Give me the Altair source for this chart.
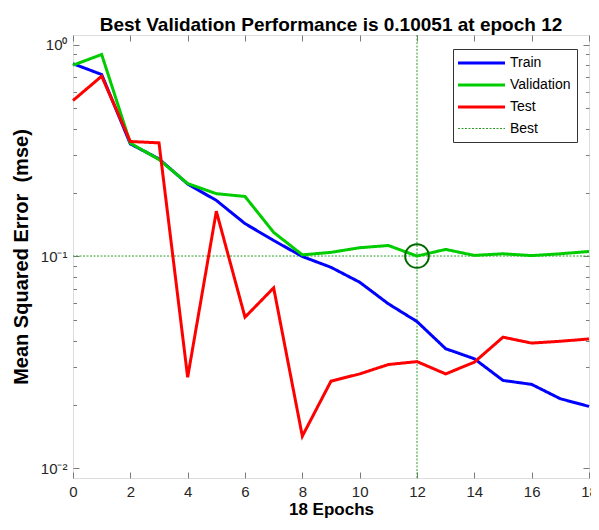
import altair as alt
import pandas as pd

# ---- data ----
epochs = list(range(19))
train = [0.813, 0.723, 0.340, 0.289, 0.220, 0.184, 0.143, 0.119, 0.100, 0.0889,
         0.0756, 0.0598, 0.0493, 0.0367, 0.0329, 0.0260, 0.0249, 0.0213, 0.0196]
validation = [0.800, 0.899, 0.343, 0.287, 0.221, 0.198, 0.192, 0.130, 0.1018, 0.1046,
              0.110, 0.1127, 0.10051, 0.108, 0.1012, 0.103, 0.101, 0.103, 0.1056]
test = [0.545, 0.710, 0.349, 0.344, 0.0269, 0.1636, 0.0517, 0.0711, 0.01418, 0.0258,
        0.0279, 0.0309, 0.0319, 0.0279, 0.0317, 0.0416, 0.0390, 0.0398, 0.0408]
best_epoch = 12
best_perf = 0.10051
n_epochs = 18

series_names = ["Train", "Validation", "Test", "Best"]
series_colors = ["#0000ff", "#00cc00", "#ff0000", "#2a9d2a"]
series_dash = [[1, 0], [1, 0], [1, 0], [2, 1.5]]
series_width = [3, 3, 3, 1]
x_ticks = list(range(0, 19, 2))
y_major = [0.01, 0.1, 1]
y_minor = [0.02, 0.03, 0.04, 0.05, 0.06, 0.07, 0.08, 0.09,
           0.2, 0.3, 0.4, 0.5, 0.6, 0.7, 0.8, 0.9]

# ---- tables ----
rows = []
for name, vals in [("Train", train), ("Validation", validation), ("Test", test)]:
    for e, v in zip(epochs, vals):
        rows.append({"epoch": e, "mse": v, "series": name})
df = pd.DataFrame(rows)
best_df = pd.DataFrame({"epoch": [best_epoch], "mse": [best_perf], "series": ["Best"]})

W, H = 516, 443
FONT = "Liberation Sans"
BOX = "#7a7a7a"

xs = alt.Scale(domain=[0, 18], nice=False)
ys = alt.Scale(type="log", domain=[0.009, 1.111], nice=False)

legend = alt.Legend(
    orient="none", legendX=380, legendY=14, direction="vertical",
    symbolType="M-4,0H4", symbolSize=138,
    symbolOffset=14.5, labelOffset=21, rowPadding=7, padding=6.5,
    labelFont=FONT, labelFontSize=14, labelColor="#000000",
    strokeColor="#333333", fillColor="#ffffff",
)
color = alt.Color("series:N", title=None,
                  scale=alt.Scale(domain=series_names, range=series_colors),
                  legend=legend)
dash = alt.StrokeDash("series:N", title=None,
                      scale=alt.Scale(domain=series_names, range=series_dash),
                      legend=legend)
width = alt.StrokeWidth("series:O", title=None,
                        scale=alt.Scale(type="ordinal", domain=series_names, range=series_width),
                        legend=legend)

base = alt.Chart(df)

# best rules
vrule = alt.Chart(best_df).mark_rule().encode(
    x=alt.X("epoch:Q", scale=xs, axis=None), color=color, strokeDash=dash, strokeWidth=width)
hrule = alt.Chart(best_df).mark_rule().encode(
    y=alt.Y("mse:Q", scale=ys, axis=None), color=color, strokeDash=dash, strokeWidth=width)

x_main = alt.Axis(values=x_ticks, ticks=False, domain=False, grid=False,
                  labelFont=FONT, labelFontSize=15, labelColor="#262626",
                  labelPadding=6, labelFlush=False, labelOverlap=False,
                  title=f"{n_epochs} Epochs", titleFont=FONT, titleFontSize=17,
                  titleFontWeight="bold", titleColor="#000000", titlePadding=2,
                  orient="bottom")
y_main = alt.Axis(values=y_major, ticks=False, domain=False, grid=False,
                  labelFont=FONT, labelFontSize=15, labelColor="#262626",
                  labelPadding=6, labelOverlap=False,
                  labelExpr="datum.value > 0.5 ? '10⁰' : (datum.value > 0.05 ? '10⁻¹' : '10⁻²')",
                  title="Mean Squared Error\u00a0 (mse)", titleFont=FONT, titleFontSize=20,
                  titleFontWeight="bold", titleColor="#000000", titlePadding=9,
                  orient="left")

def line_layer(name, first=False):
    return base.transform_filter(alt.datum.series == name).mark_line().encode(
        x=alt.X("epoch:Q", scale=xs, axis=x_main if first else None),
        y=alt.Y("mse:Q", scale=ys, axis=y_main if first else None),
        color=color, strokeDash=dash, strokeWidth=width,
    )

l_train = line_layer("Train", first=True)
l_val = line_layer("Validation")
l_test = line_layer("Test")

circle = alt.Chart(best_df).mark_point(shape="circle", size=560, strokeWidth=2,
                                       color="#006a00", filled=False, opacity=1).encode(
    x=alt.X("epoch:Q", scale=xs, axis=None),
    y=alt.Y("mse:Q", scale=ys, axis=None),
)

def tick_axis(values, size, orient, offset):
    return alt.Axis(values=values, ticks=True, tickSize=size, tickColor=BOX, tickWidth=1,
                    labels=False, domain=False, grid=False, title=None,
                    orient=orient, offset=offset)

def helper(yax, xax):
    return base.mark_point(size=0, opacity=0).encode(
        x=alt.X("epoch:Q", scale=xs, axis=xax),
        y=alt.Y("mse:Q", scale=ys, axis=yax),
    )

h1 = helper(tick_axis(y_major, 6, "right", -W), tick_axis(x_ticks, 6, "top", -H))
h2 = helper(tick_axis(y_minor, 3.5, "right", -W), tick_axis(x_ticks, 6, "bottom", -H))
h3 = helper(tick_axis(y_major, 6, "left", -W), None)
h4 = helper(tick_axis(y_minor, 3.5, "left", -W), None)

chart = alt.layer(
    vrule, hrule, l_train, l_val, l_test, circle, h1, h2, h3, h4
).resolve_axis(x="independent", y="independent").properties(
    width=W, height=H,
    title=alt.TitleParams(
        text=f"Best Validation Performance is {best_perf} at epoch {best_epoch}",
        font=FONT, fontSize=19, fontWeight="bold", color="#000000",
        anchor="middle", frame="group", baseline="alphabetic", offset=-15),
    autosize=alt.AutoSizeParams(type="none"),
    padding={"left": 65, "top": 27, "right": 2, "bottom": 44},
).configure_view(stroke=BOX, strokeWidth=1).configure(background="white")

chart.save("out.html", embed_options={"renderer": "svg", "actions": False})
